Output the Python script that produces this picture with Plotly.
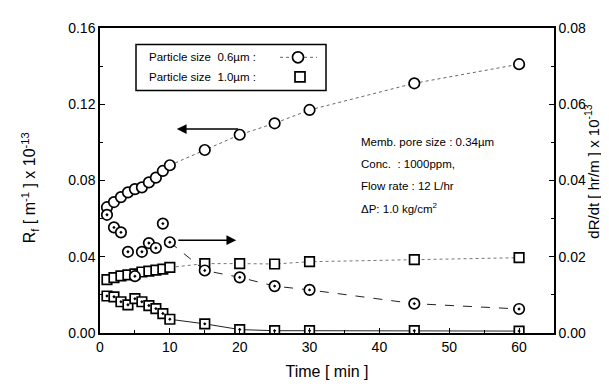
import plotly.graph_objects as go

# ---- data ----
time_min = [1, 2, 3, 4, 5, 6, 7, 8, 9, 10, 15, 20, 25, 30, 45, 60]
rf_06 = [0.066, 0.0687, 0.0713, 0.0738, 0.0755, 0.0764, 0.079, 0.0815, 0.085, 0.088,
         0.096, 0.104, 0.110, 0.117, 0.131, 0.141]
rf_10 = [0.028, 0.029, 0.030, 0.0305, 0.031, 0.032, 0.0325, 0.033, 0.0335, 0.0344,
         0.0364, 0.0364, 0.0362, 0.0374, 0.0385, 0.0395]
drdt_06 = [0.031, 0.0277, 0.0264, 0.0213, 0.0149, 0.0213, 0.0236, 0.0223, 0.0287, 0.0238,
           0.0164, 0.0146, 0.0123, 0.0113, 0.0077, 0.0063]
drdt_10 = [0.0097, 0.0095, 0.0082, 0.0074, 0.009, 0.0082, 0.0072, 0.0064, 0.0051, 0.0036,
           0.0024, 0.0009, 0.0006, 0.0006, 0.0006, 0.0005]
x_ticks = [0, 10, 20, 30, 40, 50, 60]
legend_labels = ["Particle size  0.6\u00b5m :", "Particle size  1.0\u00b5m :"]
conditions = ["Memb. pore size : 0.34\u00b5m", "Conc.  : 1000ppm,",
              "Flow rate : 12 L/hr", "\u0394P: 1.0 kg/cm<sup>2</sup>"]
y_left_title = "R<sub>f</sub> [ m<sup>-1</sup> ] x 10<sup>-13</sup>"
y_right_title = "dR/dt [ hr/m ] x 10<sup>-13</sup>"

FONT = "Liberation Sans, Arial, sans-serif"
L0 = 9  # lines are drawn from t = 10 on

fig = go.Figure()

def line_trace(y, yaxis, dash, color):
    return go.Scatter(x=time_min[L0:], y=y[L0:], mode="lines", yaxis=yaxis,
                      line=dict(color=color, width=1, dash=dash),
                      showlegend=False, hoverinfo="skip")

fig.add_trace(line_trace(rf_06, "y", "dot", "#666"))
fig.add_trace(line_trace(rf_10, "y", "dot", "#777"))
fig.add_trace(line_trace(drdt_06, "y2", "dash", "#222"))
fig.add_trace(line_trace(drdt_10, "y2", "solid", "#222"))

def mk(y, yaxis, symbol, size):
    return go.Scatter(x=time_min, y=y, mode="markers", yaxis=yaxis,
                      marker=dict(symbol=symbol, size=size, color="white",
                                  line=dict(color="black", width=1.7)),
                      showlegend=False)

fig.add_trace(mk(rf_10, "y", "square", 9.5))
fig.add_trace(mk(drdt_10, "y2", "square-dot", 9.5))
fig.add_trace(mk(drdt_06, "y2", "circle-dot", 10.5))
fig.add_trace(mk(rf_06, "y", "circle", 10.5))

# plot area in pixels: x 92..546, y 13..325
def px(x):
    return (x - 92) / 454.0

def py(y):
    return (325 - y) / 312.0

shapes = [
    dict(type="rect", xref="paper", yref="paper", x0=px(128), x1=px(318), y0=py(77), y1=py(30),
         line=dict(color="black", width=1.5), fillcolor="white", layer="above"),
    dict(type="line", xref="paper", yref="paper", x0=px(272), x1=px(309), y0=py(43), y1=py(43),
         line=dict(color="#666", width=1, dash="dot"), layer="above"),
    dict(type="circle", xref="paper", yref="paper", xsizemode="pixel", ysizemode="pixel",
         xanchor=px(290), yanchor=py(43), x0=-5.5, x1=5.5, y0=-5.5, y1=5.5,
         line=dict(color="black", width=1.7), fillcolor="white", layer="above"),
    dict(type="rect", xref="paper", yref="paper", xsizemode="pixel", ysizemode="pixel",
         xanchor=px(292), yanchor=py(63), x0=-5, x1=5, y0=-5, y1=5,
         line=dict(color="black", width=1.7), fillcolor="white", layer="above"),
]

annotations = []
for i, lab in enumerate(legend_labels):
    annotations.append(dict(text=lab, xref="paper", yref="paper", x=px(139), y=py(43 + 20 * i),
                            xanchor="left", yanchor="middle", showarrow=False,
                            font=dict(family=FONT, size=11.5, color="black")))
for i, lab in enumerate(conditions):
    annotations.append(dict(text=lab, xref="paper", yref="paper", x=px(351), y=py(130 + 22.3 * i),
                            xanchor="left", yanchor="middle", showarrow=False,
                            font=dict(family=FONT, size=11.5, color="black")))
# axis titles for the two y axes
annotations.append(dict(text=y_left_title, xref="paper", yref="paper", x=px(22), y=py(177),
                        xanchor="center", yanchor="middle", textangle=-90, showarrow=False,
                        font=dict(family=FONT, size=16, color="black")))
annotations.append(dict(text=y_right_title, xref="paper", yref="paper", x=px(584), y=py(160),
                        xanchor="center", yanchor="middle", textangle=-90, showarrow=False,
                        font=dict(family=FONT, size=15, color="black")))
# arrows
annotations.append(dict(x=11, y=0.107, ax=20, ay=0.107, xref="x", yref="y", axref="x", ayref="y",
                        text="", showarrow=True, arrowhead=2, arrowsize=1.3, arrowwidth=1.5,
                        arrowcolor="black"))
annotations.append(dict(x=19.5, y=0.0487, ax=11, ay=0.0487, xref="x", yref="y", axref="x", ayref="y",
                        text="", showarrow=True, arrowhead=2, arrowsize=1.3, arrowwidth=1.5,
                        arrowcolor="black"))

axis_common = dict(showline=True, linecolor="black", linewidth=1.5, ticks="inside",
                   tickcolor="black", ticklen=5, tickwidth=1.2, showgrid=False, zeroline=False,
                   tickfont=dict(family=FONT, size=14, color="black"))

fig.update_layout(
    width=609, height=386,
    margin=dict(l=92, r=63, t=13, b=61),
    paper_bgcolor="white", plot_bgcolor="white",
    showlegend=False,
    xaxis=dict(range=[0, 65], tickvals=x_ticks, mirror=True,
               minor=dict(dtick=5, ticks="inside", ticklen=3, tickcolor="black"),
               title=dict(text="Time [ min ]", standoff=12,
                          font=dict(family=FONT, size=16, color="black")),
               **axis_common),
    yaxis=dict(range=[0, 0.16], dtick=0.04, tickformat=".2f",
               minor=dict(dtick=0.02, ticks="inside", ticklen=3, tickcolor="black"),
               **axis_common),
    yaxis2=dict(range=[0, 0.08], dtick=0.02, tickformat=".2f", overlaying="y", side="right",
                minor=dict(dtick=0.01, ticks="inside", ticklen=3, tickcolor="black"),
                **axis_common),
    shapes=shapes,
    annotations=annotations,
)

fig.write_html("out.html")
